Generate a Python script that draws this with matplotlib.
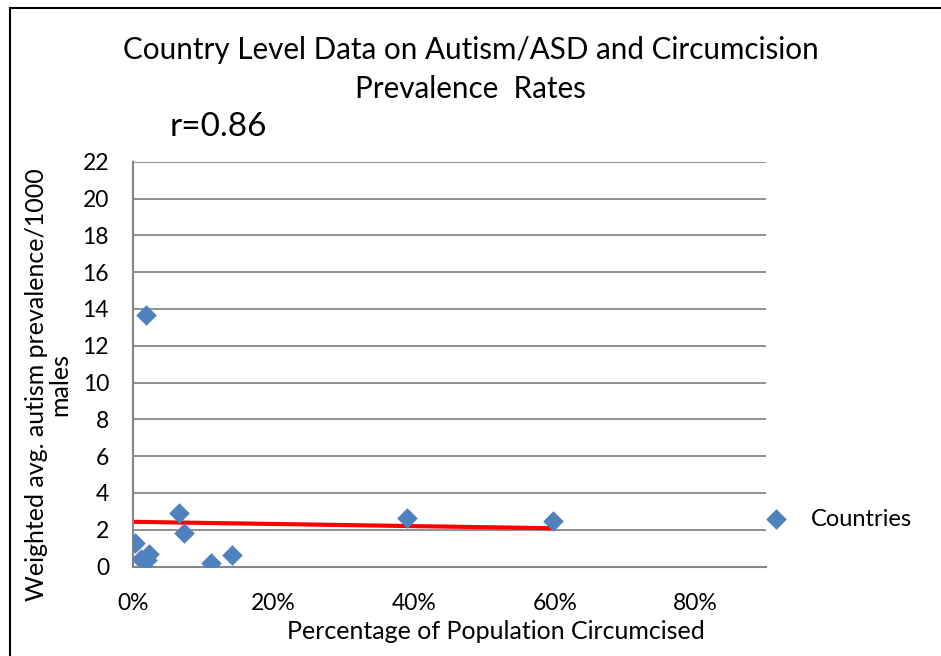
import matplotlib.pyplot as plt
from matplotlib.patches import Rectangle
from matplotlib.ticker import PercentFormatter

# circumcision share (fraction) and weighted autism prevalence per 1000 males
circ = [0.003, 0.012, 0.020, 0.023, 0.0185, 0.066, 0.073, 0.112, 0.141, 0.390, 0.597]
autism = [1.28, 0.41, 0.35, 0.68, 13.67, 2.91, 1.82, 0.19, 0.63, 2.62, 2.49]

# linear trendline as drawn in the source chart
trend_x = [0.0, 0.598]
trend_y = [2.43, 2.08]

x_ticks = [0.0, 0.2, 0.4, 0.6, 0.8]
y_ticks = list(range(0, 23, 2))

main_font = 'Lato'

fig = plt.figure(figsize=(9.41, 6.56), dpi=100)
ax = fig.add_axes([0.141, 0.1364, 0.6727, 0.6171])

grid_col = '#868686'
for y in y_ticks:
    ax.axhline(y, color=grid_col, lw=1.3, zorder=1)

ax.plot(trend_x, trend_y, color='#ff0000', lw=3, zorder=2, solid_capstyle='butt')
ax.scatter(circ, autism, marker='D', s=110, color='#4f81bd', zorder=3, label='Countries',
           linewidths=0)

ax.set_xlim(0, 0.9)
ax.set_ylim(0, 22)
ax.set_xticks(x_ticks)
ax.set_yticks(y_ticks)
ax.xaxis.set_major_formatter(PercentFormatter(1.0, decimals=0))
ax.tick_params(length=0, labelsize=16.5)
ax.tick_params(axis='y', pad=17)
ax.tick_params(axis='x', pad=19)
for lab in ax.get_xticklabels() + ax.get_yticklabels():
    lab.set_family(main_font)

for s in ['top', 'right']:
    ax.spines[s].set_visible(False)
for s in ['left', 'bottom']:
    ax.spines[s].set_color(grid_col)
    ax.spines[s].set_linewidth(1.5)

ax.set_xlabel('Percentage of Population Circumcised', fontsize=18, family=main_font)
ax.xaxis.set_label_coords(0.574, -0.132)
ax.set_ylabel('Weighted avg. autism prevalence/1000\nmales', fontsize=18, family=main_font,
              linespacing=1.0)
ax.yaxis.set_label_coords(-0.097, 0.45)

fig.text(0.5, 0.894, 'Country Level Data on Autism/ASD and Circumcision\nPrevalence  Rates',
         ha='center', va='center', fontsize=21.3, family=main_font, linespacing=1.45)
fig.text(0.18, 0.806, 'r=0.86', ha='left', va='center', fontsize=24, family=main_font)

leg = ax.legend(loc='center left', bbox_to_anchor=(1.0, 0.117), frameon=False,
                prop={'family': main_font, 'size': 17}, handletextpad=1.0,
                handlelength=0.9, borderaxespad=0, borderpad=0)

fig.patches.append(Rectangle((10 / 941, -0.1), 1.2, 1 - 8 / 656 + 0.1,
                             transform=fig.transFigure, fill=False, ec='black', lw=1.5))

fig.savefig('out.png', dpi=100)
